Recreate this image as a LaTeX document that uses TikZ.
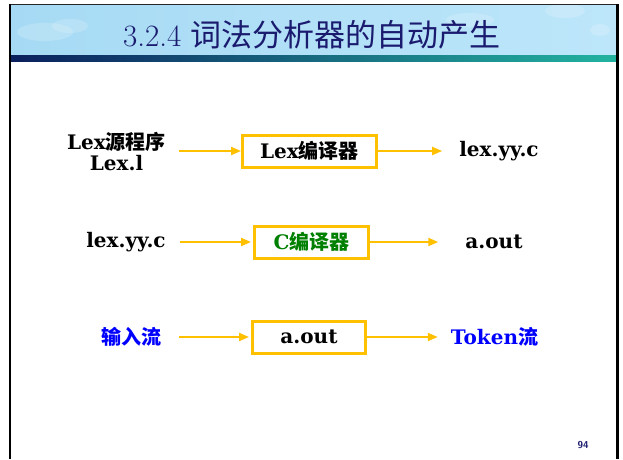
\documentclass[tikz,border=0pt]{standalone}
\usepackage{fontspec}
\usetikzlibrary{arrows.meta}
\newfontfamily\cjk{Noto Sans CJK SC}
\newfontfamily\bodyfont{DejaVu Serif}
\newcommand\zh[1]{{\cjk #1}}
\definecolor{gold}{HTML}{FFC000}
\definecolor{navy}{HTML}{1A1A6E}
\definecolor{darkgreen}{HTML}{008000}
\definecolor{txtblue}{HTML}{0000FF}
\definecolor{skyA}{HTML}{A6DAF4}
\definecolor{skyB}{HTML}{BDE6FA}
\definecolor{stripL}{HTML}{0B1F5E}
\definecolor{stripR}{HTML}{22B3A0}
\tikzset{
  txt/.style={inner sep=0pt, font=\bodyfont\fontsize{20}{22}\selectfont\bfseries, align=center},
  procbox/.style={draw=gold, line width=3pt, inner sep=0pt, minimum height=32pt,
    font=\bodyfont\fontsize{20}{22}\selectfont\bfseries},
  arr/.style={draw=gold, line width=2pt, -{Triangle[length=10pt,width=8pt]}},
  cloud/.style={fill=white, opacity=0.18},
}
\begin{document}
\begin{tikzpicture}[x=1pt,y=-1pt]
\useasboundingbox (0,0) rectangle (623,459);
\fill[white] (0,0) rectangle (623,459);
% title band
\shade[left color=skyA, right color=skyB] (10,5) rectangle (617,55);
\fill[cloud] (45,32) ellipse (28 and 9);
\fill[cloud] (70,26) ellipse (18 and 7);
\fill[cloud] (565,11) ellipse (20 and 7);
\fill[cloud] (470,20) ellipse (24 and 7);
\fill[cloud] (600,30) ellipse (10 and 6);
\shade[left color=stripL, right color=stripR] (10,55) rectangle (617,61);
% frame
\draw[line width=1.5pt, black!85] (9,4.5) -- (618,4.5);
\draw[line width=2pt, black] (9.5,4) -- (9.5,459);
\draw[line width=2.5pt, black] (617.5,4) -- (617.5,459);
\node[text=navy, font=\fontsize{31}{34}\selectfont] (title) at (312,35) {3.2.4 \zh{词法分析器的自动产生}};
% row 1
\node[txt] (src) at (116.5,151) {Lex\zh{源程序}\\[-1pt]Lex.l};
\node[procbox, minimum width=134pt] (lexc) at (309.5,151) {Lex\zh{编译器}};
\node[txt] (lexyy) at (499,151) {lex.yy.c};
\draw[arr, shorten <=13pt] (src) -- (lexc);
\draw[arr, shorten >=17pt] (lexc) -- (lexyy);
% row 2
\node[txt] (lexyy2) at (126,242) {lex.yy.c};
\node[procbox, minimum width=114pt, text=darkgreen] (cc) at (311.5,242) {C\zh{编译器}};
\node[txt] (aout) at (494,242) {a.out};
\draw[arr, shorten <=14pt, shorten >=2pt] (lexyy2) -- (cc);
\draw[arr, shorten >=27pt] (cc) -- (aout);
% row 3
\node[txt, text=txtblue] (inp) at (131,337) {\zh{输入流}};
\node[procbox, minimum width=113pt] (run) at (309,337) {a.out};
\node[txt, text=txtblue] (tok) at (494.5,337) {Token\zh{流}};
\draw[arr, shorten <=18pt, shorten >=2pt] (inp) -- (run);
\draw[arr, shorten >=13pt] (run) -- (tok);
% page number
\node[text=navy, font=\sffamily\bfseries\fontsize{10}{12}\selectfont] (pg) at (583,445) {94};
\end{tikzpicture}
\end{document}
